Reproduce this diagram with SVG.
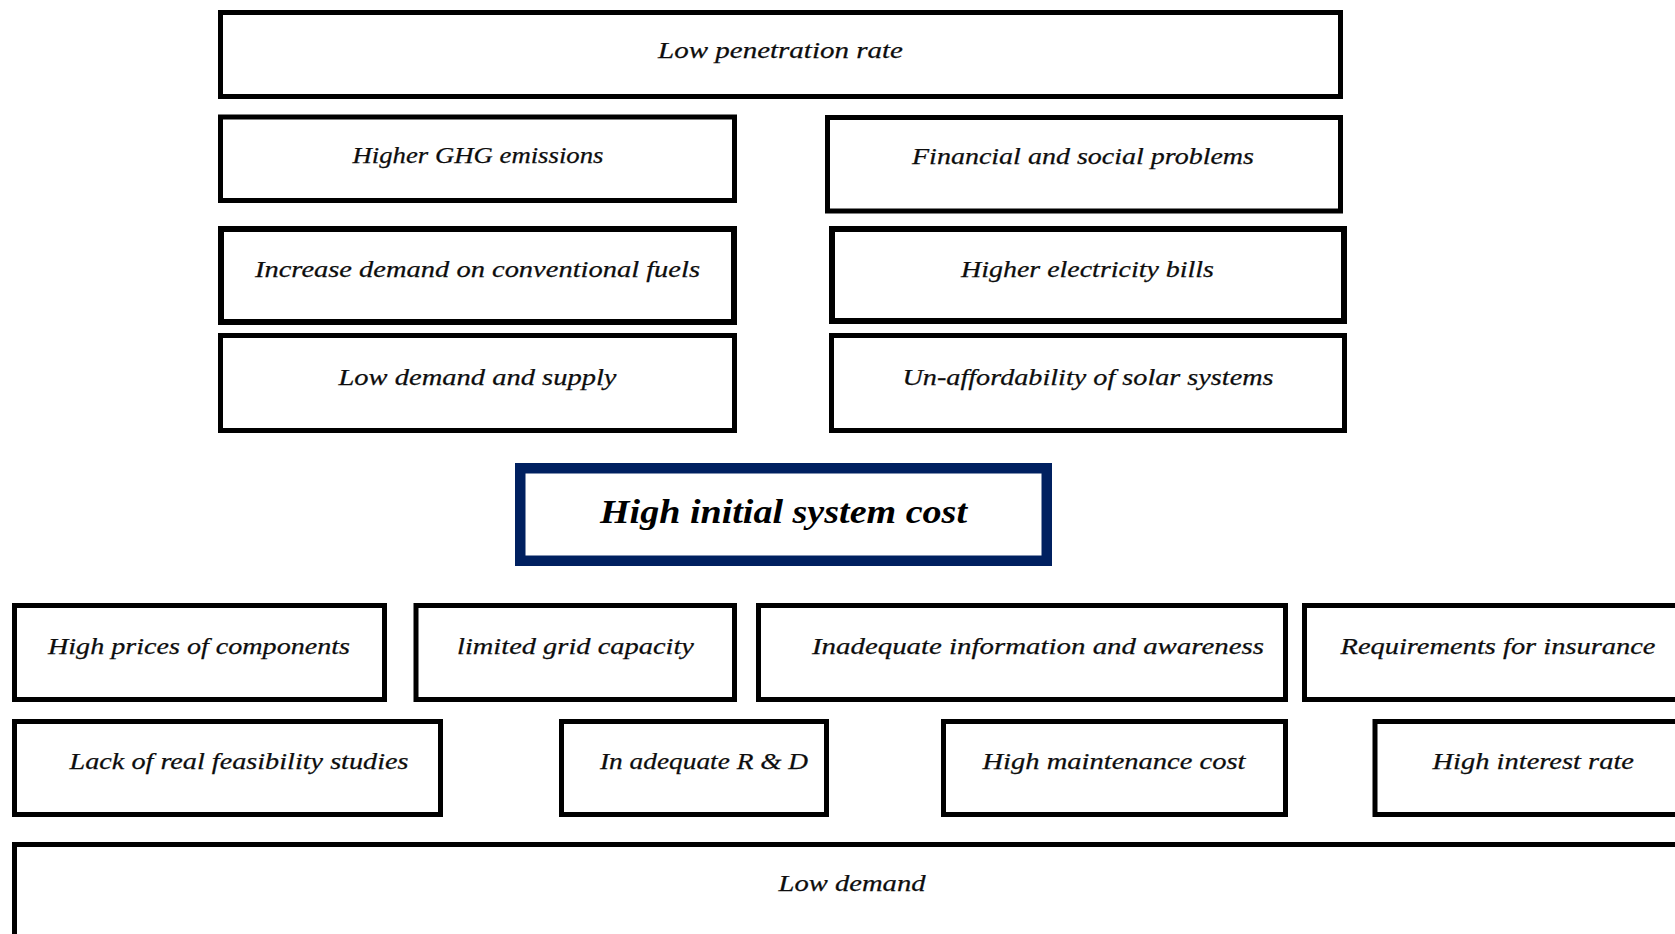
<svg xmlns="http://www.w3.org/2000/svg" width="1675" height="934" viewBox="0 0 1675 934">
  <style>
    .box { fill: #ffffff; stroke: #000000; stroke-width: 5; }
    .box-thick { fill: #ffffff; stroke: #000000; stroke-width: 6; }
    .core { fill: #ffffff; stroke: #002060; stroke-width: 10.5; }
    .lbl { font-family: "Liberation Serif", "Times New Roman", serif; font-style: italic; font-size: 23.5px; fill: #0d0d0d; stroke: #0d0d0d; stroke-width: 0.25; }
    .core-lbl { font-family: "Liberation Serif", "Times New Roman", serif; font-style: italic; font-weight: bold; font-size: 33px; fill: #000000; }
  </style>
  <rect width="1675" height="934" fill="#ffffff"/>

  <!-- effects -->
  <g id="low-penetration-rate">
    <rect class="box" x="220.5" y="12.5" width="1120" height="84"/>
    <text class="lbl" x="658" y="58" textLength="245" lengthAdjust="spacingAndGlyphs">Low penetration rate</text>
  </g>
  <g id="higher-ghg-emissions">
    <rect class="box" x="220.5" y="117" width="514" height="83.5"/>
    <text class="lbl" x="352.5" y="162.5" textLength="251" lengthAdjust="spacingAndGlyphs">Higher GHG emissions</text>
  </g>
  <g id="financial-social-problems">
    <rect class="box" x="827.5" y="117.5" width="513" height="93.5"/>
    <text class="lbl" x="912" y="164" textLength="342" lengthAdjust="spacingAndGlyphs">Financial and social problems</text>
  </g>
  <g id="increase-demand-conventional">
    <rect class="box-thick" x="221" y="229" width="513" height="93"/>
    <text class="lbl" x="255" y="277" textLength="445" lengthAdjust="spacingAndGlyphs">Increase demand on conventional fuels</text>
  </g>
  <g id="higher-electricity-bills">
    <rect class="box-thick" x="832" y="229" width="512" height="92"/>
    <text class="lbl" x="961" y="277" textLength="253" lengthAdjust="spacingAndGlyphs">Higher electricity bills</text>
  </g>
  <g id="low-demand-supply">
    <rect class="box" x="220.5" y="335.5" width="514" height="95"/>
    <text class="lbl" x="338.5" y="384.5" textLength="278" lengthAdjust="spacingAndGlyphs">Low demand and supply</text>
  </g>
  <g id="unaffordability">
    <rect class="box" x="831.5" y="335.5" width="513" height="95"/>
    <text class="lbl" x="902.5" y="384.5" textLength="371" lengthAdjust="spacingAndGlyphs">Un-affordability of solar systems</text>
  </g>

  <!-- core problem -->
  <g id="high-initial-system-cost">
    <rect class="core" x="520.25" y="468.25" width="526.5" height="92.5"/>
    <text class="core-lbl" x="600" y="523" textLength="367" lengthAdjust="spacingAndGlyphs">High initial system cost</text>
  </g>

  <!-- causes -->
  <g id="high-prices-components">
    <rect class="box" x="14.5" y="605.5" width="370" height="94"/>
    <text class="lbl" x="48" y="654" textLength="302" lengthAdjust="spacingAndGlyphs">High prices of components</text>
  </g>
  <g id="limited-grid-capacity">
    <rect class="box" x="416" y="605.5" width="318.5" height="94"/>
    <text class="lbl" x="457" y="654" textLength="237" lengthAdjust="spacingAndGlyphs">limited grid capacity</text>
  </g>
  <g id="inadequate-information">
    <rect class="box" x="758.5" y="605.5" width="527" height="94"/>
    <text class="lbl" x="812" y="654" textLength="452" lengthAdjust="spacingAndGlyphs">Inadequate information and awareness</text>
  </g>
  <g id="requirements-insurance">
    <rect class="box" x="1304.5" y="605.5" width="400" height="94"/>
    <text class="lbl" x="1340.5" y="654" textLength="315" lengthAdjust="spacingAndGlyphs">Requirements for insurance</text>
  </g>
  <g id="lack-feasibility-studies">
    <rect class="box" x="14.5" y="721.5" width="426" height="93"/>
    <text class="lbl" x="69.5" y="769" textLength="339" lengthAdjust="spacingAndGlyphs">Lack of real feasibility studies</text>
  </g>
  <g id="inadequate-rd">
    <rect class="box" x="561.5" y="721.5" width="265" height="93"/>
    <text class="lbl" x="600" y="769" textLength="208" lengthAdjust="spacingAndGlyphs">In adequate R &amp; D</text>
  </g>
  <g id="high-maintenance-cost">
    <rect class="box" x="943.5" y="721.5" width="342" height="93"/>
    <text class="lbl" x="982.5" y="769" textLength="263" lengthAdjust="spacingAndGlyphs">High maintenance cost</text>
  </g>
  <g id="high-interest-rate">
    <rect class="box" x="1375" y="721.5" width="330" height="93"/>
    <text class="lbl" x="1432.5" y="769" textLength="201.5" lengthAdjust="spacingAndGlyphs">High interest rate</text>
  </g>
  <g id="low-demand">
    <rect class="box" x="14.5" y="844.5" width="1690" height="120"/>
    <text class="lbl" x="778.5" y="891" textLength="147" lengthAdjust="spacingAndGlyphs">Low demand</text>
  </g>

  <!-- no connectors are drawn between the tiers -->
  <g id="connectors"/>
</svg>
